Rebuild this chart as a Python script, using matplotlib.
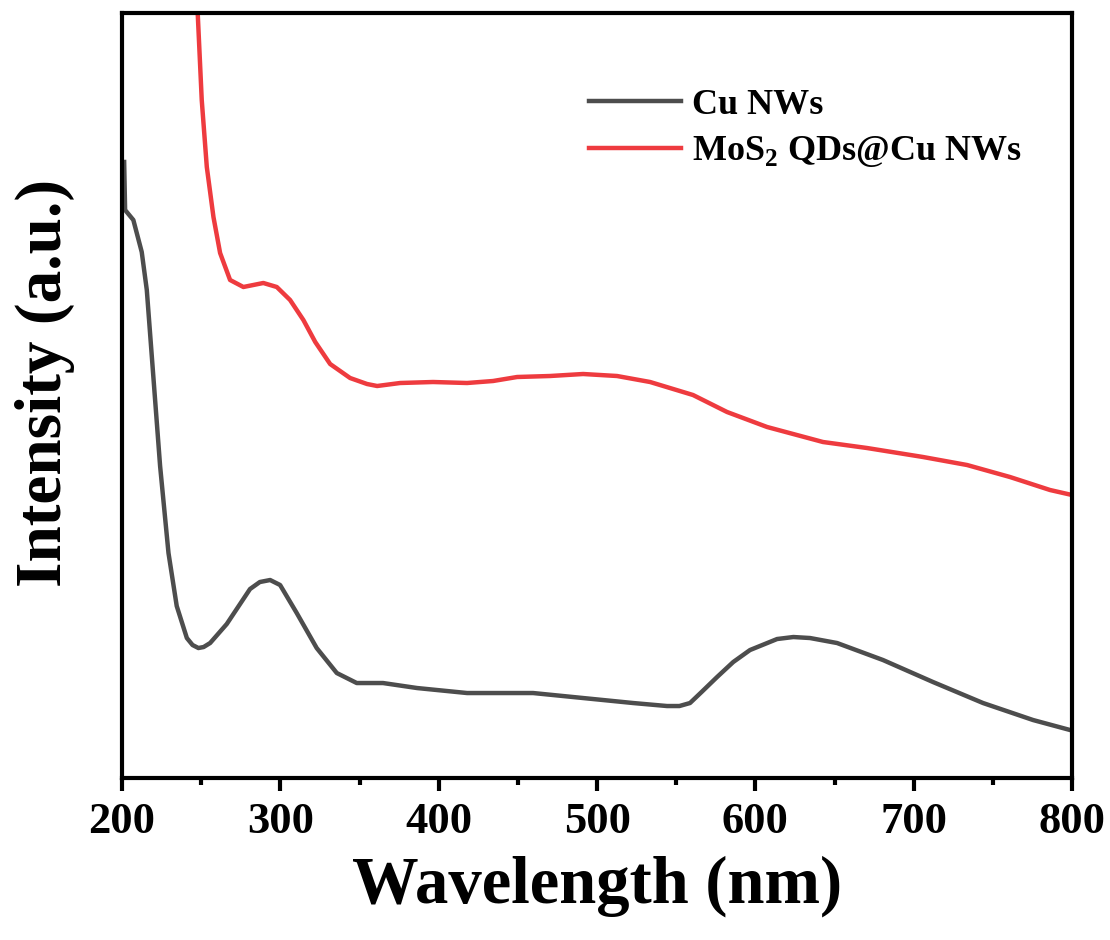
import matplotlib
matplotlib.use("Agg")
import matplotlib.pyplot as plt
from matplotlib.ticker import MultipleLocator

plt.rcParams['font.family'] = ['Liberation Serif', 'DejaVu Serif']
plt.rcParams['font.weight'] = 'bold'
plt.rcParams['mathtext.fontset'] = 'custom'
plt.rcParams['mathtext.rm'] = 'Liberation Serif:bold'
plt.rcParams['mathtext.bf'] = 'Liberation Serif:bold'

# Cu NWs (a.u.)
cu_wl = [201.3, 201.9, 207.1, 212.4, 215.6, 219.8, 224.0, 229.3, 234.5, 240.9,
         244.5, 248.2, 251.5, 255.6, 266.1, 280.8, 287.0, 293.5, 299.8, 310.3,
         322.9, 335.6, 348.2, 364.8, 386.3, 417.9, 459.6, 491.2, 522.8, 544.2,
         552.0, 558.7, 566.0, 575.8, 586.0, 596.6, 613.7, 624.0, 634.5, 651.6,
         680.6, 712.2, 743.8, 775.4, 798.8]
cu_int = [6.16, 5.68, 5.58, 5.26, 4.88, 4.00, 3.12, 2.25, 1.72, 1.40,
          1.33, 1.30, 1.31, 1.35, 1.54, 1.89, 1.96, 1.98, 1.93, 1.65,
          1.30, 1.05, 0.95, 0.95, 0.90, 0.85, 0.85, 0.80, 0.75, 0.72,
          0.72, 0.75, 0.86, 1.01, 1.16, 1.28, 1.39, 1.41, 1.40, 1.35,
          1.18, 0.96, 0.75, 0.58, 0.48]

# MoS2 QDs@Cu NWs
mos_wl = [247.6, 250.3, 253.5, 257.7, 261.9, 268.2, 276.6, 289.2, 297.7, 306.1,
          314.5, 322.0, 331.4, 344.0, 354.7, 361.1, 375.6, 396.4, 417.9, 434.3,
          449.5, 470.3, 491.2, 512.6, 533.5, 560.6, 582.1, 607.4, 642.7, 670.5,
          705.9, 733.7, 760.8, 786.1, 800.0]
mos_int = [7.70, 6.78, 6.11, 5.61, 5.25, 4.98, 4.91, 4.95, 4.91, 4.78,
           4.58, 4.36, 4.14, 4.00, 3.94, 3.92, 3.95, 3.96, 3.95, 3.97,
           4.01, 4.02, 4.04, 4.02, 3.96, 3.83, 3.66, 3.51, 3.36, 3.30,
           3.21, 3.13, 3.01, 2.88, 2.83]

fig = plt.figure(figsize=(11.1, 9.4), dpi=100)
ax = fig.add_axes([0.110, 0.1723, 0.8558, 0.8139])

ax.plot(cu_wl, cu_int, color='#4d4d4d', lw=3.2, label='Cu NWs',
        solid_joinstyle='round')
ax.plot(mos_wl, mos_int, color='#ee3b3f', lw=3.2, label=r'MoS$_{\mathrm{2}}$ QDs@Cu NWs',
        solid_joinstyle='round')

ax.set_xlim(200, 800)
ax.set_ylim(0, 7.65)
ax.set_yticks([])
ax.xaxis.set_major_locator(MultipleLocator(100))
ax.xaxis.set_minor_locator(MultipleLocator(50))
ax.tick_params(axis='x', which='major', length=9, width=3, pad=8, labelsize=32)
ax.tick_params(axis='x', which='minor', length=5, width=3)
for s in ax.spines.values():
    s.set_linewidth(3)

ax.set_xlabel('Wavelength (nm)', fontsize=48, fontweight='bold', labelpad=10)
ax.set_ylabel('Intensity (a.u.)', fontsize=47, fontweight='bold')
ax.yaxis.set_label_coords(-0.05, 0.516)

ax.legend(loc='upper left', bbox_to_anchor=(0.457, 0.944), frameon=False,
          fontsize=26, handlelength=2.55, handletextpad=0.3, labelspacing=0.35)

fig.savefig('out.png', dpi=100)
